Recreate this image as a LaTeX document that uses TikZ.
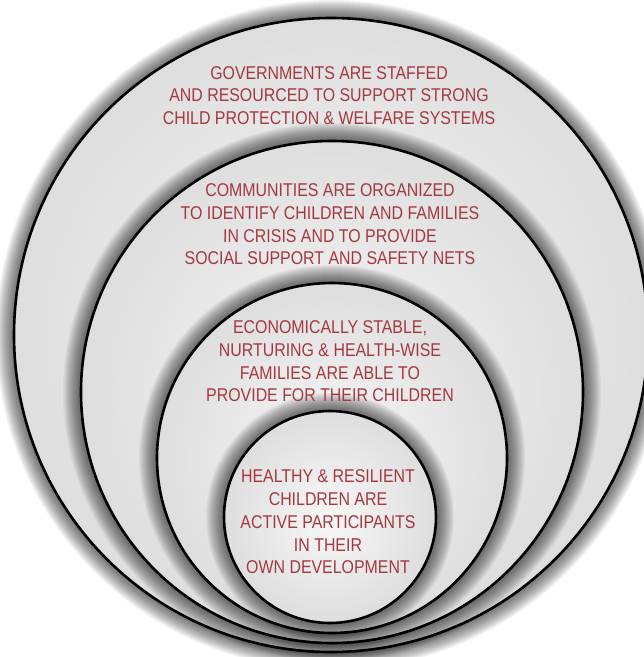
\documentclass[tikz,border=0pt]{standalone}
\usepackage{fontspec}
\setmainfont{Liberation Sans}[FakeStretch=0.86]
\definecolor{txtred}{RGB}{165,56,64}
\definecolor{ringin}{RGB}{248,248,248}
\definecolor{ringout}{RGB}{222,222,222}
\tikzset{
  ringtext/.style={text=txtred, align=center, inner sep=0pt,
    font=\fontsize{18.5}{22.7}\selectfont},
  ringline/.style={draw=black, line width=2.6pt},
  ringfill/.style={inner color=ringin, outer color=ringout}
}
\newcommand\myring[2]{%
  \foreach \k in {18,17,...,1}{\fill[black, opacity=0.04] (#1) circle ({#2pt+\k pt});}
  \shade[ringfill] (#1) circle (#2pt);
  \draw[ringline] (#1) circle (#2pt);
}
\begin{document}
\begin{tikzpicture}[x=1pt,y=-1pt]
\useasboundingbox (0,0) rectangle (644,657);
\clip (0,0) rectangle (644,657);
\fill[white] (0,0) rectangle (644,657);
\coordinate (c1) at (331,335);
\coordinate (c2) at (332,392);
\coordinate (c3) at (332,458);
\coordinate (c4) at (330,517);
\myring{c1}{317}
\myring{c2}{251}
\myring{c3}{175}
\myring{c4}{106}
\node[ringtext] (t1) at (329,95.5) {GOVERNMENTS ARE STAFFED\\AND RESOURCED TO SUPPORT STRONG\\CHILD PROTECTION \& WELFARE SYSTEMS};
\node[ringtext] (t2) at (330,224.5) {COMMUNITIES ARE ORGANIZED\\TO IDENTIFY CHILDREN AND FAMILIES\\IN CRISIS AND TO PROVIDE\\SOCIAL SUPPORT AND SAFETY NETS};
\node[ringtext] (t3) at (330,361.5) {ECONOMICALLY STABLE,\\NURTURING \& HEALTH-WISE\\FAMILIES ARE ABLE TO\\PROVIDE FOR THEIR CHILDREN};
\node[ringtext] (t4) at (328,522) {HEALTHY \& RESILIENT\\CHILDREN ARE\\ACTIVE PARTICIPANTS\\IN THEIR\\OWN DEVELOPMENT};
\end{tikzpicture}
\end{document}
